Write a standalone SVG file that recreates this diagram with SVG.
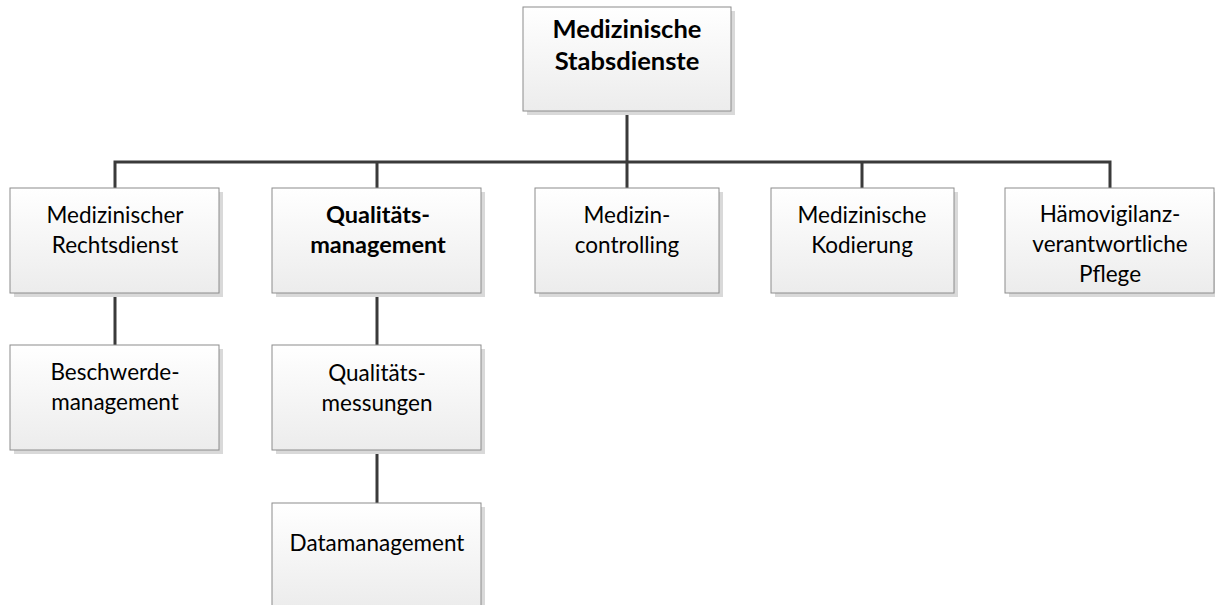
<svg xmlns="http://www.w3.org/2000/svg" width="1215" height="605" viewBox="0 0 1215 605">
<defs>
<linearGradient id="g" x1="0" y1="0" x2="0" y2="1">
<stop offset="0" stop-color="#ffffff"/>
<stop offset="1" stop-color="#ececec"/>
</linearGradient>
<style>
.box{fill:url(#g);stroke:#8c8c8c;stroke-width:1}
.sh{fill:#d9d9d9}
.t{font-family:Lato,"Open Sans",sans-serif;font-size:22.5px;fill:#000;text-anchor:middle}
.b{font-weight:bold;font-size:25.5px}
.bq{font-weight:bold;font-size:23.5px}
.c{stroke:#3a3a3a;stroke-width:3;fill:none}
</style>
</defs>
<rect width="1215" height="605" fill="#fff"/>
<g id="connectors">
<path class="c" d="M627 111V188M115 162H1110M115 160.5V188M377 160.5V188M862 160.5V188M1110 160.5V188M115 293V345M377 293V345M377 450V503"/>
</g>
<g id="n0"><rect class="sh" x="527" y="11" width="208" height="104"/><rect class="box" x="523" y="7" width="208" height="104"/><text class="t b" x="627" y="38">Medizinische</text><text class="t b" x="627" y="70">Stabsdienste</text></g>
<g id="n1"><rect class="sh" x="14" y="192" width="209" height="105"/><rect class="box" x="10" y="188" width="209" height="105"/><text class="t" x="115" y="223">Medizinischer</text><text class="t" x="115" y="253">Rechtsdienst</text></g>
<g id="n2"><rect class="sh" x="276" y="192" width="209" height="105"/><rect class="box" x="272" y="188" width="209" height="105"/><text class="t bq" x="378" y="223">Qualitäts-</text><text class="t bq" x="378" y="253">management</text></g>
<g id="n3"><rect class="sh" x="539" y="192" width="184" height="105"/><rect class="box" x="535" y="188" width="184" height="105"/><text class="t" x="627" y="223">Medizin-</text><text class="t" x="627" y="253">controlling</text></g>
<g id="n4"><rect class="sh" x="775" y="192" width="183" height="105"/><rect class="box" x="771" y="188" width="183" height="105"/><text class="t" x="862" y="223">Medizinische</text><text class="t" x="862" y="253">Kodierung</text></g>
<g id="n5"><rect class="sh" x="1009" y="192" width="209" height="105"/><rect class="box" x="1005" y="188" width="209" height="105"/><text class="t" x="1110" y="222">Hämovigilanz-</text><text class="t" x="1110" y="252">verantwortliche</text><text class="t" x="1110" y="282">Pflege</text></g>
<g id="n6"><rect class="sh" x="14" y="349" width="209" height="105"/><rect class="box" x="10" y="345" width="209" height="105"/><text class="t" x="115" y="380">Beschwerde-</text><text class="t" x="115" y="410">management</text></g>
<g id="n7"><rect class="sh" x="276" y="349" width="209" height="105"/><rect class="box" x="272" y="345" width="209" height="105"/><text class="t" x="377" y="381">Qualitäts-</text><text class="t" x="377" y="411">messungen</text></g>
<g id="n8"><rect class="sh" x="276" y="507" width="209" height="105"/><rect class="box" x="272" y="503" width="209" height="105"/><text class="t" x="377" y="551">Datamanagement</text></g>
</svg>
